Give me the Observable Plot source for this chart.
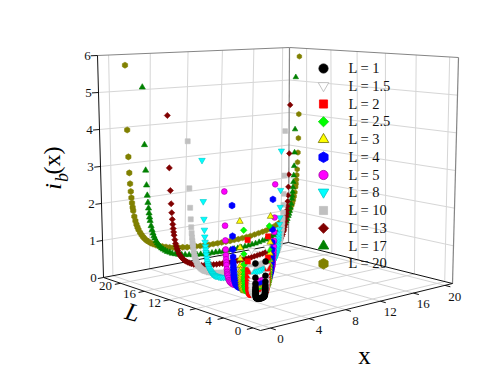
<!DOCTYPE html>
<html>
<head>
<meta charset="utf-8">
<style>html,body{margin:0;padding:0;background:#fff}</style>
<script src="https://cdn.jsdelivr.net/npm/d3@7"></script>
<script src="https://cdn.jsdelivr.net/npm/@observablehq/plot@0.6"></script>
</head>
<body>
<div id="chart"></div>
<script>
// Values. Every curve is symmetric about x = L/2, so only
// the left half is listed: position along the curve as a share of L, then i_b(x).
const sharesFine = [0.0025,0.005,0.0075,0.01,0.0125,0.015,0.0175,0.02,0.0225,0.025,0.03,0.035,0.04,0.045,0.05,0.0575,0.065,0.0725,0.08,0.09,0.1,0.1125,0.125,0.14,0.155,0.175,0.195,0.215,0.2375,0.2625,0.2875,0.3125,0.3375,0.3625,0.3875,0.4125,0.4375,0.4625,0.4875];
const sharesCoarse = [0.0025,0.005,0.0075,0.01,0.0125,0.015,0.0175,0.02,0.025,0.03,0.035,0.04,0.05,0.065,0.08,0.1,0.125,0.155,0.195,0.2375,0.2875,0.3375,0.3875,0.4375,0.4875];

const i1   = [1.41,1.07,0.93,0.85,0.80,0.77,0.74,0.72,0.69,0.67,0.65,0.64,0.62,0.61,0.60,0.59,0.58,0.58,0.57,0.57,0.57,0.56,0.56,0.56,0.56];
const i1_5 = [1.69,1.25,1.07,0.97,0.90,0.85,0.82,0.79,0.75,0.72,0.70,0.68,0.66,0.64,0.62,0.61,0.60,0.59,0.58,0.58,0.58,0.57,0.57,0.57,0.57];
const i2   = [1.92,1.41,1.20,1.07,0.99,0.93,0.89,0.85,0.80,0.77,0.74,0.72,0.69,0.66,0.64,0.63,0.61,0.60,0.59,0.59,0.58,0.58,0.58,0.58,0.58];
const i2_5 = [2.13,1.56,1.31,1.17,1.08,1.01,0.96,0.92,0.86,0.81,0.78,0.76,0.72,0.69,0.67,0.65,0.63,0.62,0.61,0.60,0.59,0.59,0.59,0.59,0.58];
const i3   = [2.32,1.69,1.42,1.26,1.15,1.08,1.02,0.97,0.91,0.86,0.82,0.79,0.75,0.71,0.69,0.66,0.64,0.63,0.62,0.61,0.60,0.60,0.59,0.59,0.59];
const i4   = [2.66,1.92,1.60,1.42,1.29,1.20,1.13,1.08,1.00,0.94,0.89,0.86,0.81,0.76,0.73,0.70,0.67,0.65,0.64,0.63,0.62,0.61,0.61,0.60,0.60];
const i5   = [2.96,2.13,1.77,1.55,1.41,1.31,1.23,1.17,1.07,1.00,0.95,0.91,0.85,0.79,0.75,0.72,0.69,0.66,0.64,0.63,0.62,0.61,0.61,0.60,0.60];
const i8   = [3.61,2.59,2.15,1.88,1.71,1.58,1.47,1.39,1.32,1.26,1.17,1.10,1.04,0.99,0.95,0.91,0.87,0.84,0.81,0.78,0.76,0.73,0.71,0.69,0.68,0.66,0.64,0.63,0.62,0.61,0.60,0.60,0.59,0.59,0.58,0.58,0.58,0.58,0.58];
const i10  = [4.03,2.85,2.36,2.07,1.87,1.72,1.61,1.52,1.44,1.37,1.27,1.18,1.12,1.06,1.02,0.96,0.92,0.88,0.85,0.82,0.79,0.76,0.73,0.71,0.69,0.66,0.65,0.63,0.62,0.61,0.60,0.59,0.58,0.58,0.57,0.57,0.57,0.57,0.56];
const i13  = [4.60,3.26,2.68,2.34,2.11,1.94,1.81,1.70,1.61,1.53,1.41,1.31,1.24,1.17,1.12,1.05,1.00,0.96,0.92,0.88,0.84,0.81,0.78,0.75,0.72,0.69,0.67,0.65,0.63,0.62,0.61,0.60,0.59,0.58,0.58,0.57,0.57,0.57,0.57];
const i17  = [5.24,3.73,3.06,2.67,2.40,2.21,2.06,1.93,1.82,1.73,1.59,1.48,1.39,1.31,1.25,1.17,1.11,1.06,1.01,0.96,0.92,0.88,0.84,0.81,0.77,0.74,0.71,0.69,0.67,0.65,0.63,0.62,0.61,0.60,0.59,0.59,0.59,0.58,0.58];
const i20  = [5.77,4.04,3.32,2.89,2.60,2.39,2.22,2.08,1.96,1.87,1.71,1.59,1.49,1.41,1.34,1.26,1.19,1.13,1.08,1.02,0.98,0.93,0.89,0.85,0.82,0.78,0.75,0.72,0.70,0.68,0.66,0.64,0.63,0.62,0.61,0.61,0.60,0.60,0.60];

const lengths = [1,1.5,2,2.5,3,4,5,8,10,13,17,20];
const currents = [i1,i1_5,i2,i2_5,i3,i4,i5,i8,i10,i13,i17,i20];
const shareLists = [sharesCoarse,sharesCoarse,sharesCoarse,sharesCoarse,sharesCoarse,sharesCoarse,sharesCoarse,sharesFine,sharesFine,sharesFine,sharesFine,sharesFine];
const xTicks = [0,4,8,12,16,20];
const lTicks = [0,4,8,12,16,20];
const zTicks = [0,1,2,3,4,5,6];

// Styles
const triangleDown = {draw(c, size){
  const s = Math.sqrt(size / 0.433), h = s * 0.433;
  c.moveTo(-s/2, -h*0.8); c.lineTo(s/2, -h*0.8); c.lineTo(0, h*1.2); c.closePath();
}};
const symbols = ["circle",triangleDown,"square","diamond2","triangle","hexagon","circle",triangleDown,"square","diamond2","triangle","hexagon"];
const fills = ["#000000","#ffffff","#ff0000","#00ff00","#ffff00","#0000ff","#ff00ff","#00ffff","#c0c0c0","#800000","#008000","#808000"];
const strokes = ["#000000","#b4b4b4","#ff0000","#00d000","#707000","#0000ff","#a000a0","#00c8c8","#c0c0c0","#800000","#008000","#808000"];
const sizeFactor = [1,0.85,1,1,0.85,1,1,0.85,1,1,0.85,1];

// View of the box: its data limits and the place of its corners on the page.
const box = {x0:-1, x1:21, l0:-1, l1:23, z1:6};
const floorQuad = [[260,330],[452,283],[288,242],[103,277]];
const topQuad   = [[261,72],[458,57],[289,47],[97,55]];

function squareToQuad(q){
  const [[x0,y0],[x1,y1],[x2,y2],[x3,y3]] = q;
  const dx1=x1-x2, dx2=x3-x2, sx=x0-x1+x2-x3, dy1=y1-y2, dy2=y3-y2, sy=y0-y1+y2-y3;
  const det=dx1*dy2-dx2*dy1;
  const g=(sx*dy2-dx2*sy)/det, h=(dx1*sy-sx*dy1)/det;
  const a=x1-x0+g*x1, b=x3-x0+h*x3, d=y1-y0+g*y1, e=y3-y0+h*y3;
  return (u,v)=>{const w=g*u+h*v+1; return [(a*u+b*v+x0)/w,(d*u+e*v+y0)/w];};
}
const floorMap = squareToQuad(floorQuad), topMap = squareToQuad(topQuad);
function place(x,l,z){
  const u=(x-box.x0)/(box.x1-box.x0), v=(l-box.l0)/(box.l1-box.l0);
  const p=floorMap(u,v), t=topMap(u,v), f=z/box.z1;
  return [p[0]+(t[0]-p[0])*f, p[1]+(t[1]-p[1])*f];
}
const px = d=>place(d.x,d.l,d.z)[0], py = d=>place(d.x,d.l,d.z)[1];
const link = (rows, o) => Plot.link(rows, {
  x1:r=>place(...r[0])[0], y1:r=>place(...r[0])[1],
  x2:r=>place(...r[1])[0], y2:r=>place(...r[1])[1], ...o});

// Box lines
const {x0,x1,l0,l1,z1} = box;
const floorGrid = [...xTicks.map(x=>[[x,l0,0],[x,l1,0]]), ...lTicks.map(l=>[[x0,l,0],[x1,l,0]])];
const wallGrid = [
  ...xTicks.map(x=>[[x,l1,0],[x,l1,z1]]),
  ...lTicks.map(l=>[[x1,l,0],[x1,l,z1]]),
  ...zTicks.slice(1,-1).flatMap(z=>[[[x0,l1,z],[x1,l1,z]],[[x1,l1,z],[x1,l0,z]]])
];
const blackEdges = [
  [[x0,l0,0],[x1,l0,0]],[[x0,l0,0],[x0,l1,0]],[[x0,l1,0],[x1,l1,0]],[[x1,l1,0],[x1,l0,0]],[[x0,l1,0],[x0,l1,z1]]
];
const grayEdges = [
  [[x1,l1,0],[x1,l1,z1]],[[x0,l1,z1],[x1,l1,z1]],[[x1,l1,z1],[x1,l0,z1]],[[x1,l0,0],[x1,l0,z1]]
];
const tickRows = [
  ...xTicks.map(x=>[[x,l0,0],[x,l0-0.7,0]]),
  ...lTicks.map(l=>[[x0,l,0],[x0-0.6,l,0]]),
  ...zTicks.map(z=>[[x0,l1,z],[x0-0.6,l1,z]])
];

// Curves, farthest first
const curves = lengths.map((L,s)=>{
  const shares = shareLists[s], vals = currents[s];
  const left = shares.map((t,j)=>({x:t*L,l:L,z:vals[j]}));
  const right = shares.map((t,j)=>({x:(1-t)*L,l:L,z:vals[j]})).reverse();
  const rows = left.concat(right);
  return Plot.dot(rows, {x:px, y:py,
    r:d=>3*sizeFactor[s]*(1-0.006*(d.x+d.l)),
    symbol:symbols[s], fill:fills[s], stroke:strokes[s], strokeWidth:0.6});
}).reverse();

// Legend
const legendRows = lengths.map((L,s)=>({L,s}));
const legendRow = d=>68+d.s*17.75;
const legendDots = legendRows.map(d=>Plot.dot([d],{x:()=>323,y:legendRow,
  r:()=>4.6*sizeFactor[d.s], symbol:symbols[d.s], fill:fills[d.s], stroke:strokes[d.s], strokeWidth:0.8}));

const serif = "Liberation Serif";
const chart = Plot.plot({
  width:491, height:375, margin:0,
  x:{domain:[0,491],range:[0,491],axis:null},
  y:{domain:[0,375],range:[0,375],axis:null},
  r:{type:"identity"},
  style:{background:"#fff",fontFamily:serif},
  marks:[
    link(floorGrid,{stroke:"#cfcfcf",strokeWidth:0.9}),
    link(wallGrid,{stroke:"#d6d6d6",strokeWidth:1}),
    link(grayEdges,{stroke:"#858585",strokeWidth:1.2}),
    link(blackEdges,{stroke:"#111",strokeWidth:1}),
    link(tickRows,{stroke:"#111",strokeWidth:1}),
    ...curves,
    ...legendDots,
    Plot.text(legendRows,{x:()=>348,y:legendRow,text:d=>`L = ${d.L}`,textAnchor:"start",lineAnchor:"middle",fontSize:14.5,fontFamily:serif,fill:"#111"}),
    Plot.text(xTicks,{x:d=>place(d,l0,0)[0],y:d=>place(d,l0,0)[1],text:d=>String(d),dx:10,dy:11,fontSize:13,fontFamily:serif,fill:"#111"}),
    Plot.text(lTicks,{x:d=>place(x0,d,0)[0],y:d=>place(x0,d,0)[1],text:d=>String(d),dx:-15,dy:3,fontSize:13,fontFamily:serif,fill:"#111"}),
    Plot.text(zTicks,{x:d=>place(x0,l1,d)[0],y:d=>place(x0,l1,d)[1],text:d=>String(d),dx:-10,fontSize:13,fontFamily:serif,fill:"#111"}),
    Plot.text(["i"],{x:()=>53,y:()=>186,text:d=>d,rotate:-90,fontSize:24,fontStyle:"italic",fontFamily:serif,fill:"#000"}),
    Plot.text(["b"],{x:()=>62,y:()=>177,text:d=>d,rotate:-90,fontSize:18,fontStyle:"italic",fontFamily:serif,fill:"#000"}),
    Plot.text(["(x)"],{x:()=>52,y:()=>160,text:d=>d,rotate:-90,fontSize:24,fontFamily:serif,fill:"#000"}),
    Plot.text(["L"],{x:()=>132,y:()=>312,text:d=>d,rotate:15,fontSize:25,fontStyle:"italic",fontFamily:serif,fill:"#000"}),
    Plot.text(["x"],{x:()=>364,y:()=>355,text:d=>d,fontSize:25,fontWeight:500,fontFamily:serif,fill:"#000"})
  ]
});
document.getElementById("chart").appendChild(chart);
</script>
</body>
</html>
